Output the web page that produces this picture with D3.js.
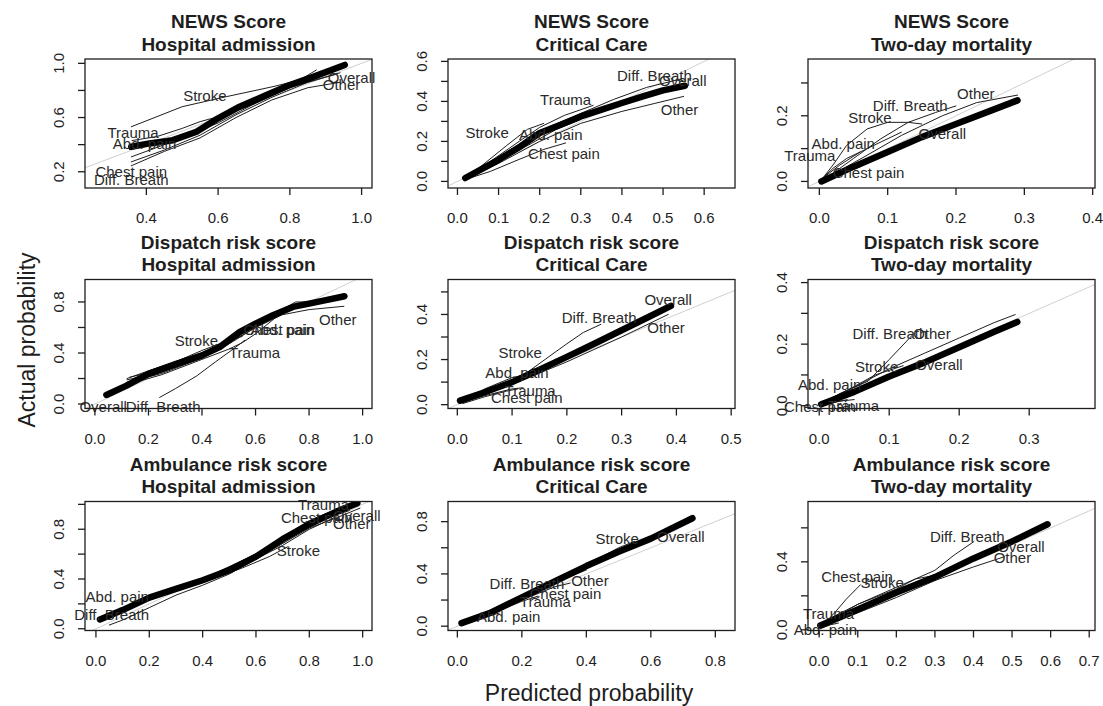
<!DOCTYPE html>
<html>
<head>
<meta charset="utf-8">
<script src="https://cdn.jsdelivr.net/npm/d3@7"></script>
<style>
  body { margin: 0; background: #fff; }
  svg { display: block; font-family: "Liberation Sans", Arial, sans-serif; }
</style>
</head>
<body>
<svg width="1103" height="706"></svg>
<script>
// row titles / column titles
var scores = ["NEWS Score", "Dispatch risk score", "Ambulance risk score"];
var outcomes = ["Hospital admission", "Critical Care", "Two-day mortality"];
var groups = ["Abd. pain", "Chest pain", "Diff. Breath", "Stroke", "Trauma", "Other", "Overall"];

// axis limits, row-major (score x outcome)
var xLims = [[0.229, 1.029], [-0.023, 0.675], [-0.0166, 0.4034],
             [-0.037, 1.035], [-0.017, 0.507], [-0.016, 0.394],
             [-0.041, 1.035], [-0.029, 0.861], [-0.029, 0.715]];
var yLims = [[0.080, 1.032], [-0.033, 0.612], [-0.020, 0.373],
             [-0.035, 0.976], [-0.017, 0.555], [-0.009, 0.41],
             [-0.014, 1.023], [-0.033, 0.954], [-0.004, 0.755]];
var xTicks = [[0.4, 0.6, 0.8, 1.0], [0, 0.1, 0.2, 0.3, 0.4, 0.5, 0.6], [0, 0.1, 0.2, 0.3, 0.4],
              [0, 0.2, 0.4, 0.6, 0.8, 1.0], [0, 0.1, 0.2, 0.3, 0.4, 0.5], [0, 0.1, 0.2, 0.3],
              [0, 0.2, 0.4, 0.6, 0.8, 1.0], [0, 0.2, 0.4, 0.6, 0.8], [0, 0.1, 0.2, 0.3, 0.4, 0.5, 0.6, 0.7]];
var yTicks = [[0.2, 0.4, 0.6, 0.8, 1.0], [0, 0.1, 0.2, 0.3, 0.4, 0.5, 0.6], [0, 0.1, 0.2, 0.3],
              [0, 0.2, 0.4, 0.6, 0.8], [0, 0.1, 0.2, 0.3, 0.4, 0.5], [0, 0.1, 0.2, 0.3, 0.4],
              [0, 0.2, 0.4, 0.6, 0.8, 1.0], [0, 0.2, 0.4, 0.6, 0.8], [0, 0.2, 0.4, 0.6]];
// y labels R kept (others dropped for overlap)
var yTickLabels = [[0.2, 0.6, 1.0], [0, 0.2, 0.4, 0.6], [0, 0.2],
                   [0, 0.4, 0.8], [0, 0.2, 0.4], [0, 0.2, 0.4],
                   [0, 0.4, 0.8], [0, 0.4, 0.8], [0, 0.4]];

// calibration curves: [predicted, actual]
var newsAdmission = {
  "Abd. pain": [[0.36,0.39],[0.42,0.41],[0.5,0.46],[0.58,0.55],[0.65,0.65],[0.75,0.78],[0.85,0.88],[0.92,0.94]],
  "Chest pain": [[0.358,0.31],[0.42,0.37],[0.5,0.45],[0.6,0.56],[0.7,0.70],[0.8,0.82],[0.9,0.90],[0.94,0.93]],
  "Diff. Breath": [[0.358,0.273],[0.45,0.36],[0.55,0.47],[0.65,0.62],[0.75,0.75],[0.85,0.86],[0.93,0.92]],
  "Stroke": [[0.358,0.532],[0.5,0.68],[0.623,0.754],[0.753,0.828],[0.828,0.877],[0.874,0.951]],
  "Trauma": [[0.36,0.43],[0.43,0.46],[0.5,0.52],[0.55,0.57],[0.62,0.62],[0.7,0.70],[0.8,0.83],[0.88,0.93]],
  "Other": [[0.358,0.244],[0.45,0.35],[0.55,0.45],[0.65,0.60],[0.75,0.73],[0.85,0.82],[0.94,0.86]],
  "Overall": [[0.358,0.384],[0.409,0.409],[0.474,0.433],[0.54,0.495],[0.6,0.594],[0.66,0.68],[0.735,0.766],[0.8,0.84],[0.865,0.9],[0.953,0.988]]
};
var newsCritical = {
  "Abd. pain": [[0.02,0.015],[0.1,0.1],[0.18,0.19],[0.24,0.26],[0.3,0.31]],
  "Chest pain": [[0.02,0.01],[0.08,0.05],[0.15,0.11],[0.21,0.16],[0.263,0.192]],
  "Diff. Breath": [[0.02,0.02],[0.1,0.12],[0.2,0.25],[0.3,0.34],[0.38,0.41],[0.46,0.47],[0.54,0.51]],
  "Stroke": [[0.02,0.02],[0.06,0.08],[0.12,0.18],[0.17,0.26],[0.21,0.29]],
  "Trauma": [[0.02,0.02],[0.08,0.10],[0.15,0.2],[0.2,0.27],[0.26,0.33],[0.33,0.38]],
  "Other": [[0.03,0.02],[0.1,0.09],[0.2,0.2],[0.3,0.29],[0.4,0.35],[0.48,0.39],[0.55,0.425]],
  "Overall": [[0.019,0.017],[0.1,0.108],[0.153,0.175],[0.2,0.242],[0.251,0.283],[0.3,0.325],[0.349,0.358],[0.4,0.392],[0.451,0.425],[0.5,0.455],[0.553,0.478]]
};
var newsMortality = {
  "Abd. pain": [[0.005,0.01],[0.03,0.05],[0.06,0.09],[0.09,0.12],[0.12,0.15]],
  "Chest pain": [[0.005,0.005],[0.03,0.02],[0.06,0.045],[0.074,0.059]],
  "Diff. Breath": [[0.01,0.01],[0.05,0.07],[0.09,0.13],[0.13,0.18],[0.17,0.21],[0.2,0.23]],
  "Stroke": [[0.005,0.01],[0.02,0.05],[0.04,0.11],[0.07,0.16],[0.1,0.18],[0.13,0.18],[0.15,0.175]],
  "Trauma": [[0.005,0.01],[0.02,0.04],[0.04,0.07],[0.06,0.09]],
  "Other": [[0.01,0.01],[0.07,0.08],[0.12,0.14],[0.18,0.2],[0.23,0.24],[0.29,0.263]],
  "Overall": [[0.003,0.0],[0.05,0.045],[0.1,0.09],[0.15,0.135],[0.2,0.175],[0.25,0.215],[0.29,0.247]]
};
var dispatchAdmission = {
  "Abd. pain": [[0.12,0.19],[0.25,0.25],[0.4,0.36],[0.5,0.47],[0.6,0.6],[0.7,0.71],[0.76,0.76]],
  "Chest pain": [[0.13,0.21],[0.25,0.27],[0.4,0.37],[0.5,0.48],[0.6,0.62],[0.7,0.74],[0.75,0.8],[0.8,0.8]],
  "Diff. Breath": [[0.242,0.052],[0.3,0.12],[0.38,0.22],[0.45,0.33],[0.516,0.43],[0.56,0.5]],
  "Stroke": [[0.12,0.2],[0.2,0.26],[0.3,0.33],[0.4,0.42],[0.5,0.5],[0.55,0.53]],
  "Trauma": [[0.1,0.14],[0.25,0.23],[0.4,0.35],[0.5,0.43],[0.55,0.48],[0.6,0.55],[0.7,0.72],[0.78,0.79]],
  "Other": [[0.12,0.17],[0.25,0.24],[0.4,0.36],[0.5,0.48],[0.6,0.6],[0.7,0.7],[0.8,0.74],[0.93,0.766]],
  "Overall": [[0.043,0.071],[0.118,0.144],[0.2,0.236],[0.304,0.315],[0.4,0.381],[0.466,0.446],[0.54,0.564],[0.6,0.63],[0.665,0.696],[0.739,0.761],[0.8,0.787],[0.863,0.814],[0.932,0.845]]
};
var dispatchCritical = {
  "Abd. pain": [[0.01,0.01],[0.05,0.07],[0.1,0.12],[0.13,0.135]],
  "Chest pain": [[0.01,0.005],[0.05,0.035],[0.09,0.06],[0.11,0.07]],
  "Diff. Breath": [[0.01,0.01],[0.06,0.06],[0.12,0.13],[0.16,0.2],[0.2,0.27],[0.23,0.32],[0.262,0.356]],
  "Stroke": [[0.01,0.01],[0.05,0.06],[0.1,0.11],[0.14,0.16]],
  "Trauma": [[0.01,0.01],[0.05,0.04],[0.1,0.07],[0.12,0.075]],
  "Other": [[0.01,0.01],[0.1,0.09],[0.2,0.19],[0.3,0.3],[0.385,0.4]],
  "Overall": [[0.005,0.018],[0.05,0.055],[0.1,0.1],[0.15,0.155],[0.2,0.212],[0.25,0.27],[0.3,0.33],[0.35,0.39],[0.39,0.438]]
};
var dispatchMortality = {
  "Abd. pain": [[0.005,0.01],[0.03,0.04],[0.06,0.07]],
  "Chest pain": [[0.003,0.003],[0.02,0.01],[0.04,0.02]],
  "Diff. Breath": [[0.005,0.01],[0.04,0.05],[0.07,0.08],[0.1,0.15],[0.135,0.234]],
  "Stroke": [[0.005,0.01],[0.04,0.05],[0.08,0.1],[0.12,0.13]],
  "Trauma": [[0.003,0.005],[0.03,0.015],[0.05,0.02]],
  "Other": [[0.005,0.01],[0.05,0.06],[0.1,0.12],[0.15,0.17],[0.2,0.22],[0.25,0.27],[0.28,0.296]],
  "Overall": [[0.003,0.005],[0.05,0.045],[0.1,0.095],[0.15,0.14],[0.2,0.19],[0.25,0.24],[0.283,0.272]]
};
var ambulanceAdmission = {
  "Abd. pain": [[0.02,0.08],[0.1,0.16],[0.2,0.24],[0.4,0.38],[0.6,0.6],[0.8,0.85],[0.95,0.96]],
  "Chest pain": [[0.02,0.07],[0.2,0.25],[0.4,0.39],[0.6,0.6],[0.75,0.78],[0.85,0.88],[0.95,0.95]],
  "Diff. Breath": [[0.05,0.03],[0.1,0.07],[0.2,0.17],[0.3,0.27],[0.4,0.35],[0.5,0.44],[0.6,0.56],[0.7,0.67],[0.8,0.8],[0.9,0.9]],
  "Stroke": [[0.02,0.06],[0.2,0.24],[0.4,0.37],[0.55,0.49],[0.65,0.58],[0.72,0.66]],
  "Trauma": [[0.02,0.07],[0.2,0.26],[0.4,0.4],[0.6,0.6],[0.7,0.74],[0.8,0.87],[0.9,0.96],[0.97,1.0]],
  "Other": [[0.02,0.06],[0.2,0.23],[0.4,0.38],[0.6,0.56],[0.8,0.81],[0.9,0.89],[0.99,0.97]],
  "Overall": [[0.015,0.075],[0.1,0.15],[0.2,0.25],[0.3,0.32],[0.4,0.39],[0.5,0.47],[0.6,0.58],[0.7,0.72],[0.8,0.84],[0.9,0.94],[0.98,1.01]]
};
var ambulanceCritical = {
  "Abd. pain": [[0.01,0.02],[0.05,0.04],[0.1,0.08],[0.13,0.1]],
  "Chest pain": [[0.02,0.02],[0.1,0.09],[0.2,0.2],[0.3,0.3],[0.35,0.33]],
  "Diff. Breath": [[0.02,0.02],[0.1,0.1],[0.2,0.22],[0.3,0.32]],
  "Stroke": [[0.3,0.34],[0.4,0.47],[0.5,0.6],[0.55,0.65]],
  "Trauma": [[0.02,0.02],[0.1,0.09],[0.2,0.19],[0.25,0.23]],
  "Other": [[0.02,0.02],[0.1,0.1],[0.2,0.21],[0.3,0.33],[0.4,0.43]],
  "Overall": [[0.013,0.023],[0.1,0.1],[0.2,0.22],[0.3,0.34],[0.4,0.46],[0.5,0.57],[0.6,0.67],[0.729,0.826]]
};
var ambulanceMortality = {
  "Abd. pain": [[0.005,0.01],[0.03,0.03],[0.05,0.04]],
  "Chest pain": [[0.01,0.03],[0.04,0.1],[0.07,0.18],[0.107,0.265]],
  "Diff. Breath": [[0.03,0.07],[0.1,0.15],[0.2,0.25],[0.3,0.35],[0.35,0.44],[0.401,0.519]],
  "Stroke": [[0.01,0.03],[0.1,0.15],[0.2,0.24],[0.25,0.3],[0.3,0.32]],
  "Trauma": [[0.01,0.02],[0.03,0.06],[0.05,0.08]],
  "Other": [[0.01,0.02],[0.1,0.1],[0.2,0.19],[0.3,0.29],[0.4,0.37],[0.48,0.43]],
  "Overall": [[0.003,0.025],[0.1,0.12],[0.2,0.22],[0.3,0.31],[0.4,0.42],[0.5,0.52],[0.592,0.621]]
};
var curves = [newsAdmission, newsCritical, newsMortality,
              dispatchAdmission, dispatchCritical, dispatchMortality,
              ambulanceAdmission, ambulanceCritical, ambulanceMortality];

// where each group name was written, in data units
var labelSpots = [
  {"Abd. pain":[0.395,0.404],"Chest pain":[0.358,0.195],"Diff. Breath":[0.358,0.138],"Stroke":[0.563,0.76],"Trauma":[0.363,0.483],"Other":[0.944,0.84],"Overall":[0.972,0.894]},
  {"Abd. pain":[0.227,0.233],"Chest pain":[0.259,0.138],"Diff. Breath":[0.479,0.525],"Stroke":[0.072,0.242],"Trauma":[0.263,0.405],"Other":[0.54,0.358],"Overall":[0.548,0.503]},
  {"Abd. pain":[0.035,0.114],"Chest pain":[0.072,0.025],"Diff. Breath":[0.133,0.229],"Stroke":[0.074,0.194],"Trauma":[-0.014,0.076],"Other":[0.229,0.265],"Overall":[0.18,0.146]},
  {"Abd. pain":[0.70,0.583],"Chest pain":[0.689,0.583],"Diff. Breath":[0.255,-0.026],"Stroke":[0.379,0.491],"Trauma":[0.596,0.399],"Other":[0.907,0.661],"Overall":[0.031,-0.026]},
  {"Abd. pain":[0.109,0.14],"Chest pain":[0.127,0.03],"Diff. Breath":[0.259,0.385],"Stroke":[0.115,0.231],"Trauma":[0.133,0.0625],"Other":[0.381,0.338],"Overall":[0.385,0.464]},
  {"Abd. pain":[0.015,0.068],"Chest pain":[0.001,-0.003],"Diff. Breath":[0.101,0.232],"Stroke":[0.082,0.125],"Trauma":[0.049,0.0],"Other":[0.161,0.232],"Overall":[0.171,0.133]},
  {"Abd. pain":[0.08,0.256],"Chest pain":[0.828,0.889],"Diff. Breath":[0.059,0.108],"Stroke":[0.759,0.625],"Trauma":[0.853,0.997],"Other":[0.959,0.844],"Overall":[0.978,0.903]},
  {"Abd. pain":[0.159,0.069],"Chest pain":[0.335,0.244],"Diff. Breath":[0.216,0.321],"Stroke":[0.496,0.664],"Trauma":[0.273,0.182],"Other":[0.411,0.346],"Overall":[0.693,0.679]},
  {"Abd. pain":[0.016,0.0],"Chest pain":[0.098,0.308],"Diff. Breath":[0.384,0.544],"Stroke":[0.163,0.275],"Trauma":[0.024,0.096],"Other":[0.501,0.423],"Overall":[0.523,0.487]}
];

var svg = d3.select('svg');
var colLeft = [85, 448, 808];
var rowTop = [59, 279.5, 501.5];
var boxW = 287, boxH = 129;
var ink = '#1e1e1e';

function drawPanel(r, c){
  var i = r*3 + c;
  var x0 = colLeft[c], y0 = rowTop[r];
  var x = d3.scaleLinear().domain(xLims[i]).range([x0, x0+boxW]);
  var y = d3.scaleLinear().domain(yLims[i]).range([y0+boxH, y0]);
  var g = svg.append('g');

  var clipId = 'clip' + i;
  svg.append('clipPath').attr('id', clipId)
    .append('rect').attr('x', x0).attr('y', y0).attr('width', boxW).attr('height', boxH);

  var plot = g.append('g').attr('clip-path', 'url(#' + clipId + ')');
  // reference diagonal
  var lo = Math.min(xLims[i][0], yLims[i][0]), hi = Math.max(xLims[i][1], yLims[i][1]);
  plot.append('line')
    .attr('x1', x(lo)).attr('y1', y(lo)).attr('x2', x(hi)).attr('y2', y(hi))
    .style('stroke', '#d0d0d0').style('stroke-width', 1);

  var line = d3.line().x(d => x(d[0])).y(d => y(d[1]));
  for(let grp of groups){
    var isAll = grp === 'Overall';
    plot.append('path').attr('d', line(curves[i][grp]))
      .style('fill', 'none').style('stroke', isAll ? '#000' : ink)
      .style('stroke-width', isAll ? 6.5 : 1)
      .style('stroke-linejoin', 'round').style('stroke-linecap', 'round');
  }

  // group labels
  for(let grp of groups){
    var p = labelSpots[i][grp];
    g.append('text').attr('x', x(p[0])).attr('y', y(p[1]) + 5)
      .attr('text-anchor', 'middle').style('font-size', '15px').style('fill', '#2a2a2a')
      .text(grp);
  }

  // box
  g.append('rect').attr('x', x0).attr('y', y0).attr('width', boxW).attr('height', boxH)
    .style('fill', 'none').style('stroke', ink).style('stroke-width', 1.3);

  // x axis
  var xt = g.append('g');
  xTicks[i].forEach(function(t){
    xt.append('line').attr('x1', x(t)).attr('x2', x(t)).attr('y1', y0+boxH).attr('y2', y0+boxH+7)
      .style('stroke', ink).style('stroke-width', 1.3);
    xt.append('text').attr('x', x(t)).attr('y', y0+boxH+35)
      .attr('text-anchor', 'middle').style('font-size', '15px').style('fill', ink)
      .text(d3.format('.1f')(t));
  });
  // y axis
  var yt = g.append('g');
  yTicks[i].forEach(function(t){
    yt.append('line').attr('x1', x0-7).attr('x2', x0).attr('y1', y(t)).attr('y2', y(t))
      .style('stroke', ink).style('stroke-width', 1.3);
  });
  yTickLabels[i].forEach(function(t){
    yt.append('text').attr('transform', 'translate(' + (x0-21.5) + ',' + y(t) + ') rotate(-90)')
      .attr('text-anchor', 'middle').style('font-size', '15px').style('fill', ink)
      .text(d3.format('.1f')(t));
  });

  // title
  var cx = x0 + boxW/2;
  g.append('text').attr('x', cx).attr('y', y0-31).attr('text-anchor', 'middle')
    .style('font-size', '19px').style('font-weight', 'bold').style('fill', ink).text(scores[r]);
  g.append('text').attr('x', cx).attr('y', y0-8.5).attr('text-anchor', 'middle')
    .style('font-size', '19px').style('font-weight', 'bold').style('fill', ink).text(outcomes[c]);
}

for(let r = 0; r < 3; r++){
  for(let c = 0; c < 3; c++){
    drawPanel(r, c);
  }
}

svg.append('text').attr('transform', 'translate(35,340) rotate(-90)')
  .attr('text-anchor', 'middle').style('font-size', '23px').style('fill', ink)
  .text('Actual probability');
svg.append('text').attr('x', 589).attr('y', 701)
  .attr('text-anchor', 'middle').style('font-size', '23px').style('fill', ink)
  .text('Predicted probability');
</script>
</body>
</html>
